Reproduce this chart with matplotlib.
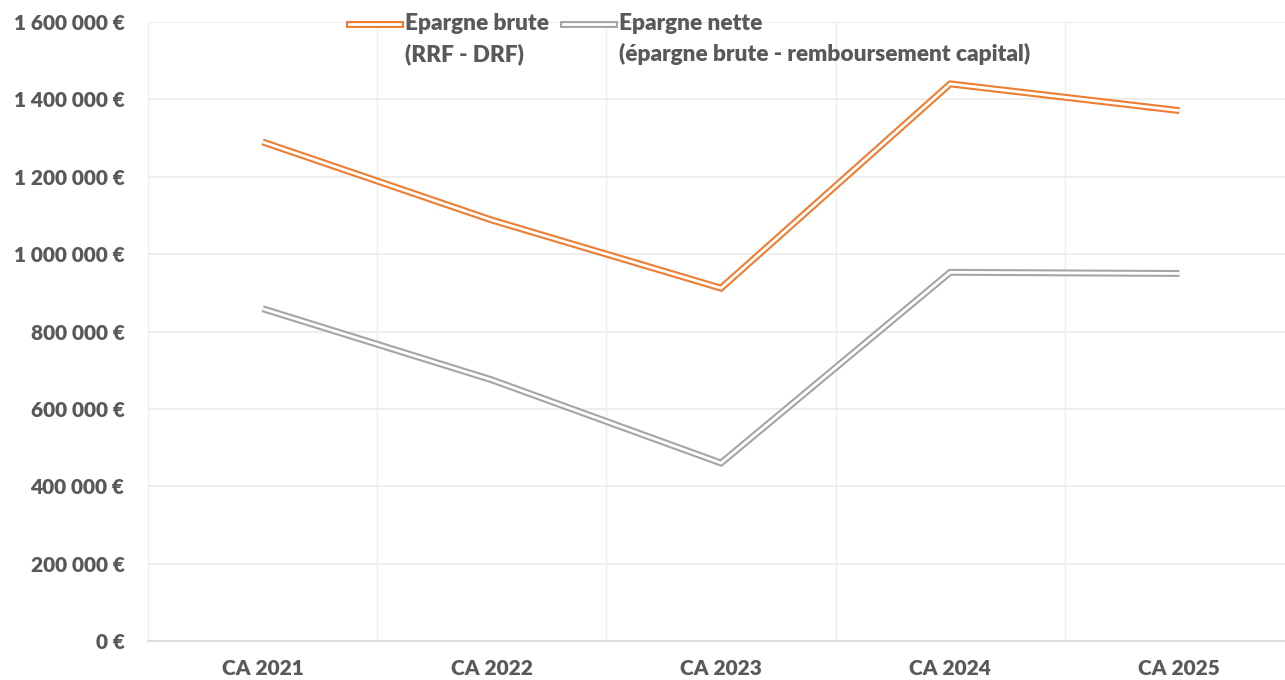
import matplotlib.pyplot as plt
from matplotlib.lines import Line2D
from matplotlib.legend_handler import HandlerTuple
from matplotlib.ticker import FuncFormatter, MultipleLocator

years = ["CA 2021", "CA 2022", "CA 2023", "CA 2024", "CA 2025"]
brute = [1290000, 1088000, 912000, 1440000, 1371000]
nette = [859000, 675000, 460000, 953000, 950000]
labels = ["Epargne brute\n(RRF - DRF)", "Epargne nette\n(épargne brute - remboursement capital)"]

orange = "#ED7D31"
gray = "#A5A5A5"
txt = "#595959"
W = 'heavy'

plt.rcParams['font.family'] = ['Lato', 'DejaVu Sans']


class TopTuple(HandlerTuple):
    # put the legend line next to the first text line
    def create_artists(self, legend, orig_handle, xdescent, ydescent, width, height, fontsize, trans):
        return super().create_artists(legend, orig_handle, xdescent, ydescent - 22, width, height, fontsize, trans)


fig = plt.figure(figsize=(12.85, 6.8), dpi=100)
# plot area runs a little past the right edge of the picture
ax = fig.add_axes([148/1285, 39/680, 1146/1285, 619/680])

x = list(range(len(years)))
handles = []
for vals, col in [(brute, orange), (nette, gray)]:
    # double line effect: thick colored line with thin white line on top
    ax.plot(x, vals, color=col, lw=5.0, solid_joinstyle='miter', solid_capstyle='butt', zorder=3)
    ax.plot(x, vals, color="white", lw=2.0, solid_joinstyle='miter', solid_capstyle='butt', zorder=4)
    handles.append((Line2D([], [], color=col, lw=5.0), Line2D([], [], color="white", lw=2.0)))

ax.set_xlim(-0.5, 4.5)
ax.set_ylim(0, 1600000)
ax.yaxis.set_major_locator(MultipleLocator(200000))
ax.yaxis.set_major_formatter(FuncFormatter(lambda v, p: f"{v:,.0f}".replace(",", " ") + " €"))
ax.set_xticks(x)
ax.set_xticklabels(years)
ax.set_xticks([i - 0.5 for i in range(len(years) + 1)], minor=True)

ax.grid(axis='y', which='major', color='#ebebeb', lw=1.2)
ax.grid(axis='x', which='minor', color='#ededed', lw=1.0)
ax.set_axisbelow(True)
for s in ['top', 'right', 'left']:
    ax.spines[s].set_visible(False)
ax.spines['bottom'].set_color('#d9d9d9')
ax.spines['bottom'].set_linewidth(1.2)

ax.tick_params(axis='both', which='both', length=0, colors=txt, labelsize=15)
ax.tick_params(axis='y', pad=17)
ax.tick_params(axis='x', pad=13)
for t in ax.get_xticklabels() + ax.get_yticklabels():
    t.set_fontweight(W)

leg = fig.legend(handles, labels, handler_map={tuple: TopTuple(ndivide=1, pad=0)},
                 loc='upper left', bbox_to_anchor=(349/1285, 1 - 13/680), ncol=2, frameon=False,
                 fontsize=16.3, handlelength=2.25, handletextpad=0.23, columnspacing=0.6,
                 borderpad=0, borderaxespad=0, labelcolor=txt)
for t in leg.get_texts():
    t.set_fontweight(W)
    t.set_linespacing(1.5)

fig.savefig("out.png", dpi=100)
